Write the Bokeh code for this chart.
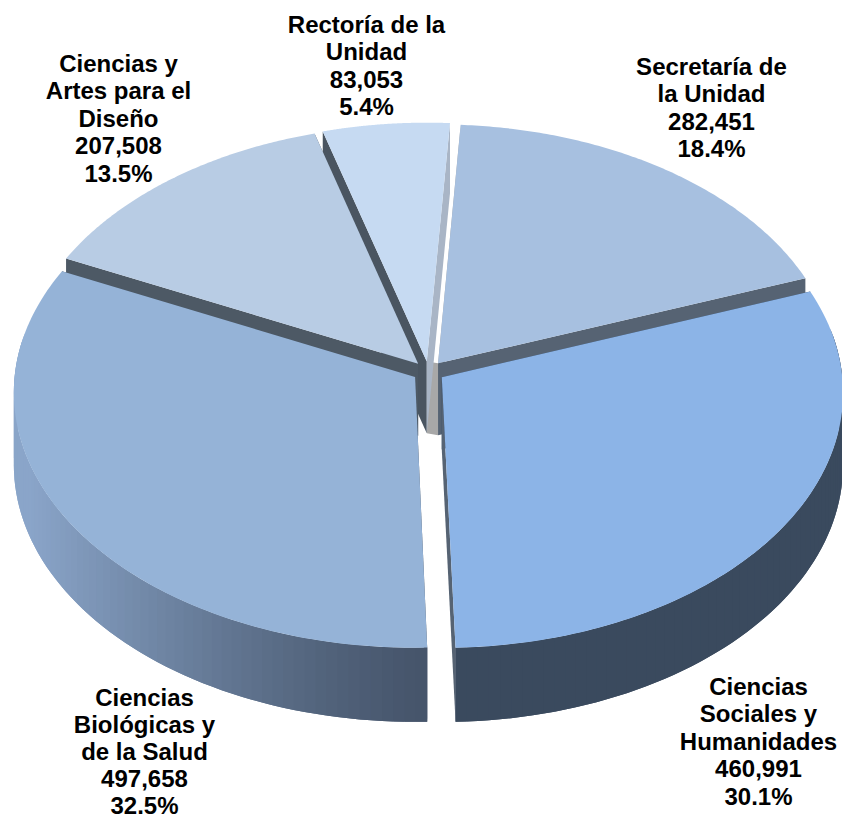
import math
from bokeh.plotting import figure
from bokeh.models import Range1d
from bokeh.core.properties import value
from bokeh.embed import file_html
from bokeh.resources import INLINE

# Data (clockwise from the top-left of the pie)
categories = ["Rectoría de la Unidad", "Secretaría de la Unidad", "Ciencias Sociales y Humanidades",
              "Ciencias Biológicas y de la Salud", "Ciencias y Artes para el Diseño"]
values = [83053, 282451, 460991, 497658, 207508]
percent = ["5.4%", "18.4%", "30.1%", "32.5%", "13.5%"]
label_lines = [["Rectoría de la", "Unidad"], ["Secretaría de", "la Unidad"],
               ["Ciencias", "Sociales y", "Humanidades"], ["Ciencias", "Biológicas y", "de la Salud"],
               ["Ciencias y", "Artes para el", "Diseño"]]
top_colors = ["#c6daf2", "#a7c0e0", "#8cb4e7", "#95b3d7", "#b8cce4"]
start_face = ["#4a5561", "#a8a8a8", "#2f4660", "#46525f", "#4d5965"]   # cut face at slice start
end_face = ["#a9b5c6", "#566373", "#566373", "#46525f", "#4d5965"]     # cut face at slice end
label_pos = [(366, 24), (711, 66), (758, 686), (144, 697), (118, 63)]
line_steps = [27.4, 27.4, 27.4, 27.0, 27.4]

# Layout of the projected pie
CX, CY, A, B, K = 428, 371, 400, 254, 0.059
EXPLODE, START = 0.04, -16.0


def project(u, v):
    w = 1 + K * v
    return CX + A * u / w, CY - B * v / w


def depth(v):
    return 72 - 2 * v


def mix(c1, c2, t):
    a = [int(c1[i:i + 2], 16) for i in (1, 3, 5)]
    b = [int(c2[i:i + 2], 16) for i in (1, 3, 5)]
    return "#%02x%02x%02x" % tuple(round(x + (y - x) * t) for x, y in zip(a, b))


p = figure(width=842, height=819, x_range=Range1d(0, 842), y_range=Range1d(819, 0),
           x_axis_location=None, y_axis_location=None, toolbar_location=None,
           output_backend="svg", min_border=0, outline_line_color=None,
           background_fill_color="white", border_fill_color="white")
p.grid.visible = False

total = sum(values)
slices = []
a0 = START
for i, val in enumerate(values):
    sweep = 360 * val / total
    slices.append((i, a0, a0 + sweep))
    a0 += sweep


def apex(a0, a1):
    mid = math.radians((a0 + a1) / 2)
    return EXPLODE * math.sin(mid), EXPLODE * math.cos(mid)


def face(u0, v0, u1, v1):
    x0, y0 = project(u0, v0)
    x1, y1 = project(u1, v1)
    return [x0, x1, x1, x0], [y0, y1, y1 + depth(v1), y0 + depth(v0)]


# gray inner core seen through the centre gap
ua, va = apex(slices[0][1], slices[0][2])
ub, vb = apex(slices[1][1], slices[1][2])
xa, ya = project(ua, va)
xb, yb = project(ub, vb)
p.patch([xa, xb, xb, xa], [ya, yb, yb + depth(vb), ya + depth(va)],
        fill_color="#a8a8a8", line_color=None)

# painter's order: back to front
for i in [0, 4, 1, 3, 2]:
    _, a0, a1 = slices[i]
    ua, va = apex(a0, a1)
    r0, r1 = math.radians(a0), math.radians(a1)
    s0 = (ua + math.sin(r0), va + math.cos(r0))
    s1 = (ua + math.sin(r1), va + math.cos(r1))

    xs, ys = face(ua, va, *s0)
    p.patch(xs, ys, fill_color=start_face[i], line_color=None)
    xs, ys = face(ua, va, *s1)
    p.patch(xs, ys, fill_color=end_face[i], line_color=None)

    # rim, each strip overlapping the next so no seams show
    n = max(2, int((a1 - a0) / 1.5))
    angs = [math.radians(a0 + (a1 - a0) * k / n) for k in range(n + 1)]
    order = range(n) if i != 3 else range(n - 1, -1, -1)
    for k in order:
        k1 = min(n, k + 2) if i != 3 else k + 1
        k0 = k if i != 3 else max(0, k - 1)
        px, py = [], []
        for a in angs[k0:k1 + 1]:
            x, y = project(ua + math.sin(a), va + math.cos(a))
            px.append(x)
            py.append(y)
        lx, ly = [], []
        for a in angs[k0:k1 + 1]:
            v = va + math.cos(a)
            x, y = project(ua + math.sin(a), v)
            lx.append(x)
            ly.append(y + depth(v))
        xs = px + lx[::-1]
        ys = py + ly[::-1]
        if min(va + math.cos(angs[k]), va + math.cos(angs[k + 1])) > 0.15:
            continue
        if i == 3:
            t = min(1, max(0, (CX - px[-1]) / 400))
            c = mix("#45546a", "#8aa5c9", t ** 1.3)
        else:
            c = "#3a4a5e"
        p.patch(xs, ys, fill_color=c, line_color=None)

    n = 120
    tx, ty = [], []
    x, y = project(ua, va)
    tx.append(x)
    ty.append(y)
    for k in range(n + 1):
        r = math.radians(a0 + (a1 - a0) * k / n)
        x, y = project(ua + math.sin(r), va + math.cos(r))
        tx.append(x)
        ty.append(y)
    p.patch(tx, ty, fill_color=top_colors[i], line_color=None)

# labels
for i, (lx, ly) in enumerate(label_pos):
    lines = label_lines[i] + [f"{values[i]:,}", percent[i]]
    for j, line in enumerate(lines):
        p.text([lx], [ly + j * line_steps[i]], text=[line], text_font=value("Liberation Sans"),
               text_font_style="bold", text_font_size="24px", text_align="center",
               text_baseline="middle", text_color="#000000")

open("out.html", "w").write(file_html(p, INLINE))
